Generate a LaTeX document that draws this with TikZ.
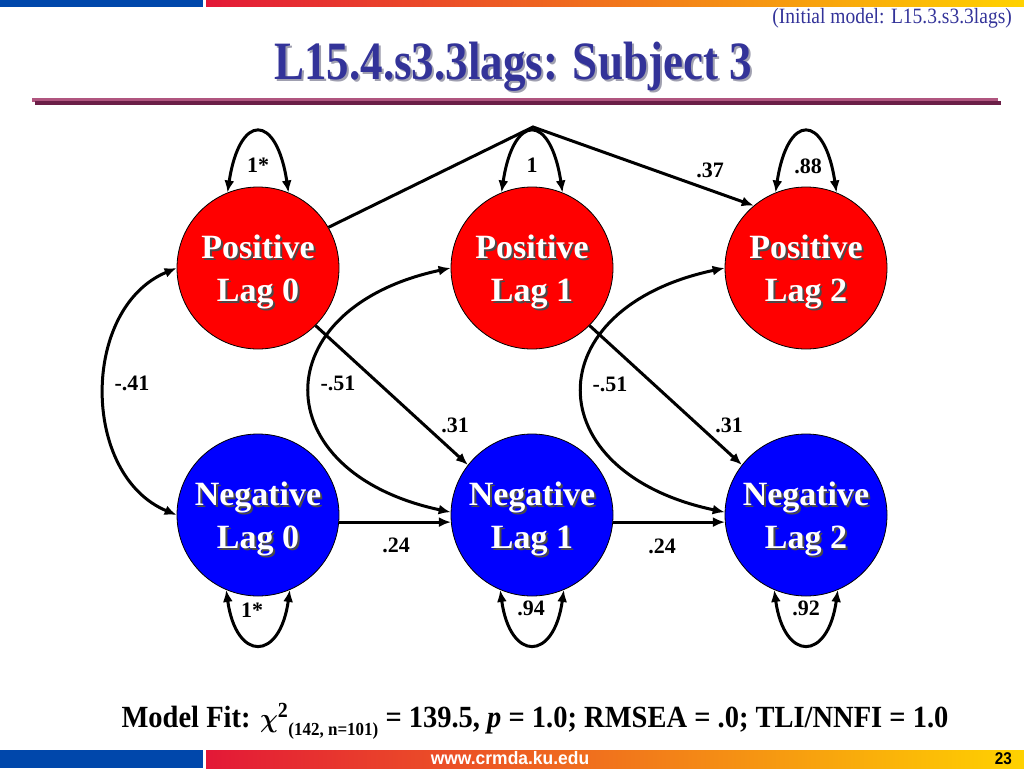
\documentclass[tikz,border=0pt]{standalone}
\usepackage{fontspec}
\usepackage{amsmath}
\setmainfont{Liberation Serif}
\setsansfont{Liberation Sans}
\usetikzlibrary{arrows.meta}
\definecolor{titleblue}{HTML}{333399}
\definecolor{barblue}{HTML}{0047AB}
\definecolor{barred}{HTML}{E31837}
\definecolor{barorange}{HTML}{F07A22}
\definecolor{baryellow}{HTML}{FFD200}
\definecolor{rulelight}{HTML}{B0557F}
\definecolor{ruledark}{HTML}{6B1F47}
\definecolor{shadowgray}{HTML}{4A4A4A}
\definecolor{titleshadow}{HTML}{A0A0B0}
% text with a drop shadow
\newcommand{\shtxt}[2][shadowgray]{\leavevmode\rlap{\raisebox{-2pt}[0pt][0pt]{\hspace*{2pt}\textcolor{#1}{#2}}}#2}
\newcommand{\lagtxt}[2]{\rule{0pt}{31pt}\shtxt{#1}\\\shtxt{Lag #2}}
\tikzset{
  >={Latex[length=12pt,width=10pt]},
  lag/.style={circle,draw=black,line width=0.8pt,minimum size=162pt,inner sep=0pt,
    text=white,align=center,font=\fontsize{34}{43}\selectfont\bfseries},
  posvar/.style={lag,fill=red},
  negvar/.style={lag,fill=blue},
  coef/.style={font=\fontsize{22}{24}\selectfont\bfseries,inner sep=0pt},
  link/.style={line width=3pt},
  lnk/.style={link,->},
  cov/.style={link,<->}
}
\begin{document}
\begin{tikzpicture}[x=1pt,y=-1pt]
  \useasboundingbox (0,0) rectangle (1024,768);
  % ---- header and footer ----
  \fill[barblue] (0,0) rectangle (203,7);
  \shade[left color=barred,middle color=barorange,right color=baryellow] (206,0) rectangle (1024,7);
  \fill[barblue] (0,750) rectangle (203,768);
  \shade[left color=barred,middle color=barorange,right color=baryellow] (206,750) rectangle (1024,768);
  \node[anchor=base east,font=\fontsize{19.5}{20}\selectfont,text=titleblue,inner sep=0pt] (sub) at (1012,24)
    {\scalebox{1}[1.12]{(Initial model: L15.3.s3.3lags)}};
  \node[anchor=base,font=\fontsize{45}{50}\selectfont\bfseries,text=titleblue,inner sep=0pt] (title) at (513,79)
    {\scalebox{1}[1.2]{\shtxt[titleshadow]{L15.4.s3.3lags: Subject 3}}};
  \fill[rulelight] (32,98) rectangle (998,102);
  \fill[ruledark] (35,101) rectangle (1001,105);
  \node[anchor=base,font=\sffamily\bfseries\fontsize{18}{20}\selectfont,text=white,inner sep=0pt] (url) at (510,764)
    {\scalebox{0.97}[1]{www.crmda.ku.edu}};
  \node[anchor=base east,font=\sffamily\bfseries\fontsize{17}{18}\selectfont,inner sep=0pt] (page) at (1012,764)
    {\scalebox{0.9}[1]{23}};

  % ---- latent variables ----
  \node[posvar] (p0) at (258,268) {\lagtxt{Positive}{0}};
  \node[posvar] (p1) at (532,268) {\lagtxt{Positive}{1}};
  \node[posvar] (p2) at (806,268) {\lagtxt{Positive}{2}};
  \node[negvar] (n0) at (258,515) {\lagtxt{Negative}{0}};
  \node[negvar] (n1) at (532,515) {\lagtxt{Negative}{1}};
  \node[negvar] (n2) at (806,515) {\lagtxt{Negative}{2}};

  % ---- variances ----
  \foreach \v in {p0,p1,p2}
    \draw[cov] (\v.112) .. controls +(12,-80) and +(-12,-80) .. (\v.68);
  \foreach \v in {n0,n1,n2}
    \draw[cov] (\v.-113) .. controls +(10,72) and +(-10,72) .. (\v.-67);
  \node[coef] (vp0) at (258,165) {1*};
  \node[coef] (vp1) at (532,165) {1};
  \node[coef] (vp2) at (808,166) {.88};
  \node[coef] (vn0) at (252,610) {1*};
  \node[coef] (vn1) at (531,608) {.94};
  \node[coef] (vn2) at (806,608) {.92};

  % ---- covariances ----
  \draw[cov] (p0.180) .. controls +(-96,40) and +(-96,-40) .. (n0.180);
  \draw[cov] (p1.180) .. controls +(-187,40) and +(-187,-40) .. (n1.178);
  \draw[cov] (p2.180) .. controls +(-189,40) and +(-189,-40) .. (n2.178);
  \node[coef] (c0) at (132,383) {-.41};
  \node[coef] (c1) at (338,383) {-.51};
  \node[coef] (c2) at (610,384) {-.51};

  % ---- regressions ----
  \coordinate (apex) at (533,127);
  \draw[lnk] (p0.30) -- (apex) -- (p2.130);
  \draw[lnk] (p0.-45) -- (n1.142);
  \draw[lnk] (p1.-45) -- (n2.142);
  \draw[lnk] (n0.-5) -- (n1.185);
  \draw[lnk] (n1.-5) -- (n2.185);
  \node[coef] (b02) at (710,170) {.37};
  \node[coef] (b01) at (455,425) {.31};
  \node[coef] (b12) at (729,425) {.31};
  \node[coef] (a01) at (396,545) {.24};
  \node[coef] (a12) at (662,546) {.24};

  % ---- fit ----
  \node[anchor=base,font=\fontsize{28.5}{30}\selectfont\bfseries,inner sep=0pt] (fit) at (535,727)
    {\scalebox{1}[1.08]{Model Fit: $\boldsymbol{\chi}$\textsuperscript{2}\raisebox{-8pt}{\fontsize{17}{18}\selectfont(142, n=101)} = 139.5, \textit{p} = 1.0; RMSEA = .0; TLI/NNFI = 1.0}};
\end{tikzpicture}
\end{document}
